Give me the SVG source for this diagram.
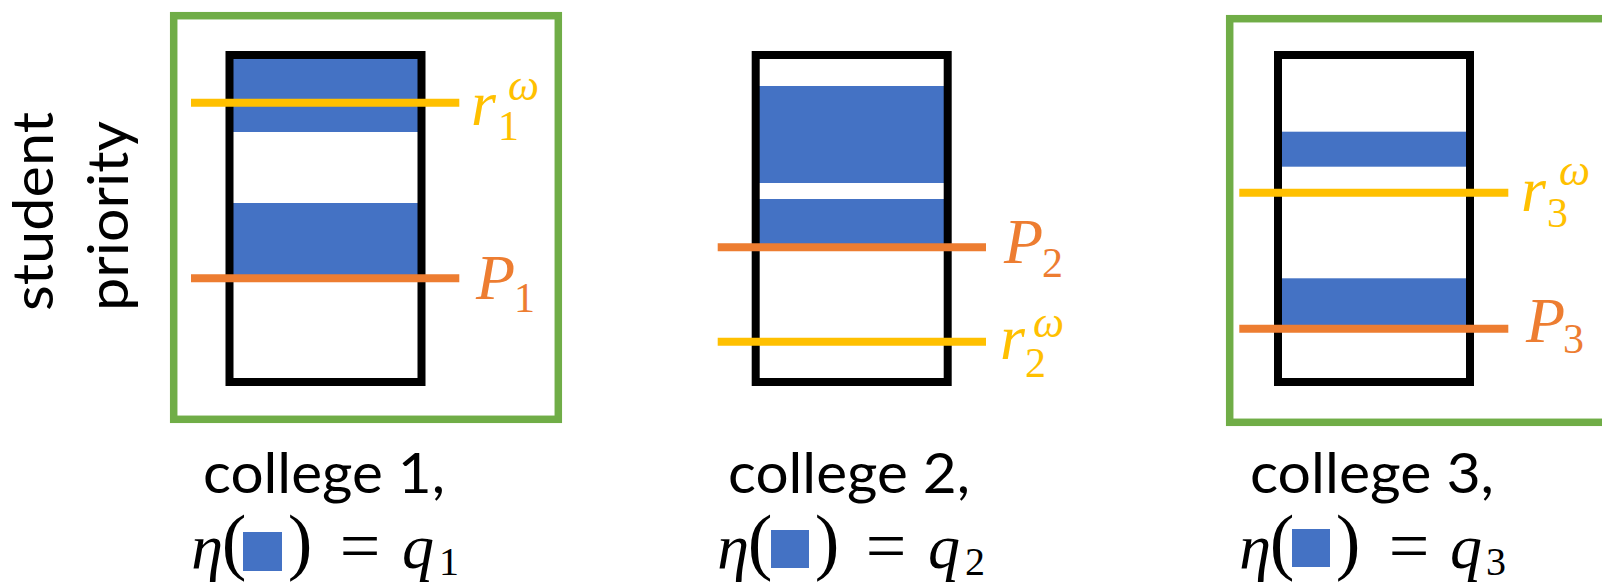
<svg xmlns="http://www.w3.org/2000/svg" width="1602" height="584" viewBox="0 0 1602 584">
<style>
.frame{fill:none;stroke:#70AD47;stroke-width:7.5}
.box{fill:none;stroke:#000;stroke-width:8}
.band{fill:#4472C4}
.yl{stroke:#FFC000;stroke-width:8}
.ol{stroke:#ED7D31;stroke-width:8}
.lbl{font-family:Lato,"Open Sans",sans-serif;font-size:56px;fill:#000}
.mi{font-family:"Liberation Serif",serif;font-style:italic;font-size:64px}
.ms{font-family:"Liberation Serif",serif;font-style:normal;font-size:42px}
.qs{font-family:"Liberation Serif",serif;font-style:normal;font-size:40px}
.msi{font-family:"Liberation Serif",serif;font-style:italic;font-size:44px}
.mo{font-family:"Liberation Serif",serif;font-size:74px;fill:#000}
.eq{font-family:"Liberation Serif",serif;font-size:72px;fill:#000}
.y{fill:#FFC000}
.o{fill:#ED7D31}
.k{fill:#000}
</style>
<rect width="1602" height="584" fill="#fff"/>
<g id="axis-label">
<text class="lbl" transform="rotate(-90)" x="-311" y="53" textLength="199" lengthAdjust="spacingAndGlyphs">student</text>
<text class="lbl" transform="rotate(-90)" x="-311" y="128" textLength="190" lengthAdjust="spacingAndGlyphs">priority</text>
</g>
<g id="college1">
<rect class="frame" x="173.7" y="15.7" width="384.6" height="403.6"/>
<rect class="band" x="229.5" y="55" width="192" height="77"/>
<rect class="band" x="229.5" y="203" width="192" height="76"/>
<rect class="box" x="229.5" y="55" width="192" height="327"/>
<line class="yl" x1="191" y1="102.7" x2="459.3" y2="102.7"/>
<line class="ol" x1="191" y1="278.3" x2="459.3" y2="278.3"/>
<text class="mi y" x="471" y="125">r<tspan class="ms" x="498" y="140">1</tspan><tspan class="msi" x="508" y="100">ω</tspan></text>
<text class="mi o" x="476" y="299">P<tspan class="ms" x="514" y="312">1</tspan></text>
<text class="lbl" x="203" y="493" textLength="242" lengthAdjust="spacingAndGlyphs">college 1,</text>
<text class="mi k" x="207" y="568" text-anchor="middle">η</text>
<text class="mo" x="234" y="566" text-anchor="middle">(</text>
<rect class="band" x="243" y="532" width="39" height="39"/>
<text class="mo" x="300" y="566" text-anchor="middle">)</text>
<text class="eq" x="360" y="570" text-anchor="middle">=</text>
<text class="mi k" x="402" y="568">q<tspan class="qs" x="439" y="575">1</tspan></text>
</g>
<g id="college2">
<rect class="band" x="755.7" y="86" width="192" height="97"/>
<rect class="band" x="755.7" y="199" width="192" height="48"/>
<rect class="box" x="755.7" y="55" width="192" height="327"/>
<line class="ol" x1="717.7" y1="247.3" x2="986" y2="247.3"/>
<line class="yl" x1="717.7" y1="341.7" x2="986" y2="341.7"/>
<text class="mi o" x="1004" y="263">P<tspan class="ms" x="1042" y="277">2</tspan></text>
<text class="mi y" x="1000" y="359">r<tspan class="ms" x="1025" y="377">2</tspan><tspan class="msi" x="1033" y="337">ω</tspan></text>
<text class="lbl" x="728" y="493" textLength="242" lengthAdjust="spacingAndGlyphs">college 2,</text>
<text class="mi k" x="733" y="568" text-anchor="middle">η</text>
<text class="mo" x="760" y="566" text-anchor="middle">(</text>
<rect class="band" x="771" y="530" width="38" height="38"/>
<text class="mo" x="827" y="566" text-anchor="middle">)</text>
<text class="eq" x="886" y="570" text-anchor="middle">=</text>
<text class="mi k" x="928" y="568">q<tspan class="qs" x="965" y="575">2</tspan></text>
</g>
<g id="college3">
<rect class="frame" x="1229.7" y="18.7" width="384.6" height="403.6"/>
<rect class="band" x="1278" y="131.7" width="192" height="35"/>
<rect class="band" x="1278" y="278.3" width="192" height="50"/>
<rect class="box" x="1278" y="55" width="192" height="327"/>
<line class="yl" x1="1239.3" y1="192.7" x2="1508.3" y2="192.7"/>
<line class="ol" x1="1239.3" y1="328.7" x2="1508.3" y2="328.7"/>
<text class="mi y" x="1521" y="211">r<tspan class="ms" x="1547" y="227">3</tspan><tspan class="msi" x="1559" y="185">ω</tspan></text>
<text class="mi o" x="1526" y="342">P<tspan class="ms" x="1563" y="353">3</tspan></text>
<text class="lbl" x="1250" y="493" textLength="244" lengthAdjust="spacingAndGlyphs">college 3,</text>
<text class="mi k" x="1255" y="568" text-anchor="middle">η</text>
<text class="mo" x="1282" y="566" text-anchor="middle">(</text>
<rect class="band" x="1292" y="529" width="38" height="38"/>
<text class="mo" x="1348" y="566" text-anchor="middle">)</text>
<text class="eq" x="1409" y="570" text-anchor="middle">=</text>
<text class="mi k" x="1450" y="568">q<tspan class="qs" x="1486" y="575">3</tspan></text>
</g>
<g id="connectors"/>
</svg>
